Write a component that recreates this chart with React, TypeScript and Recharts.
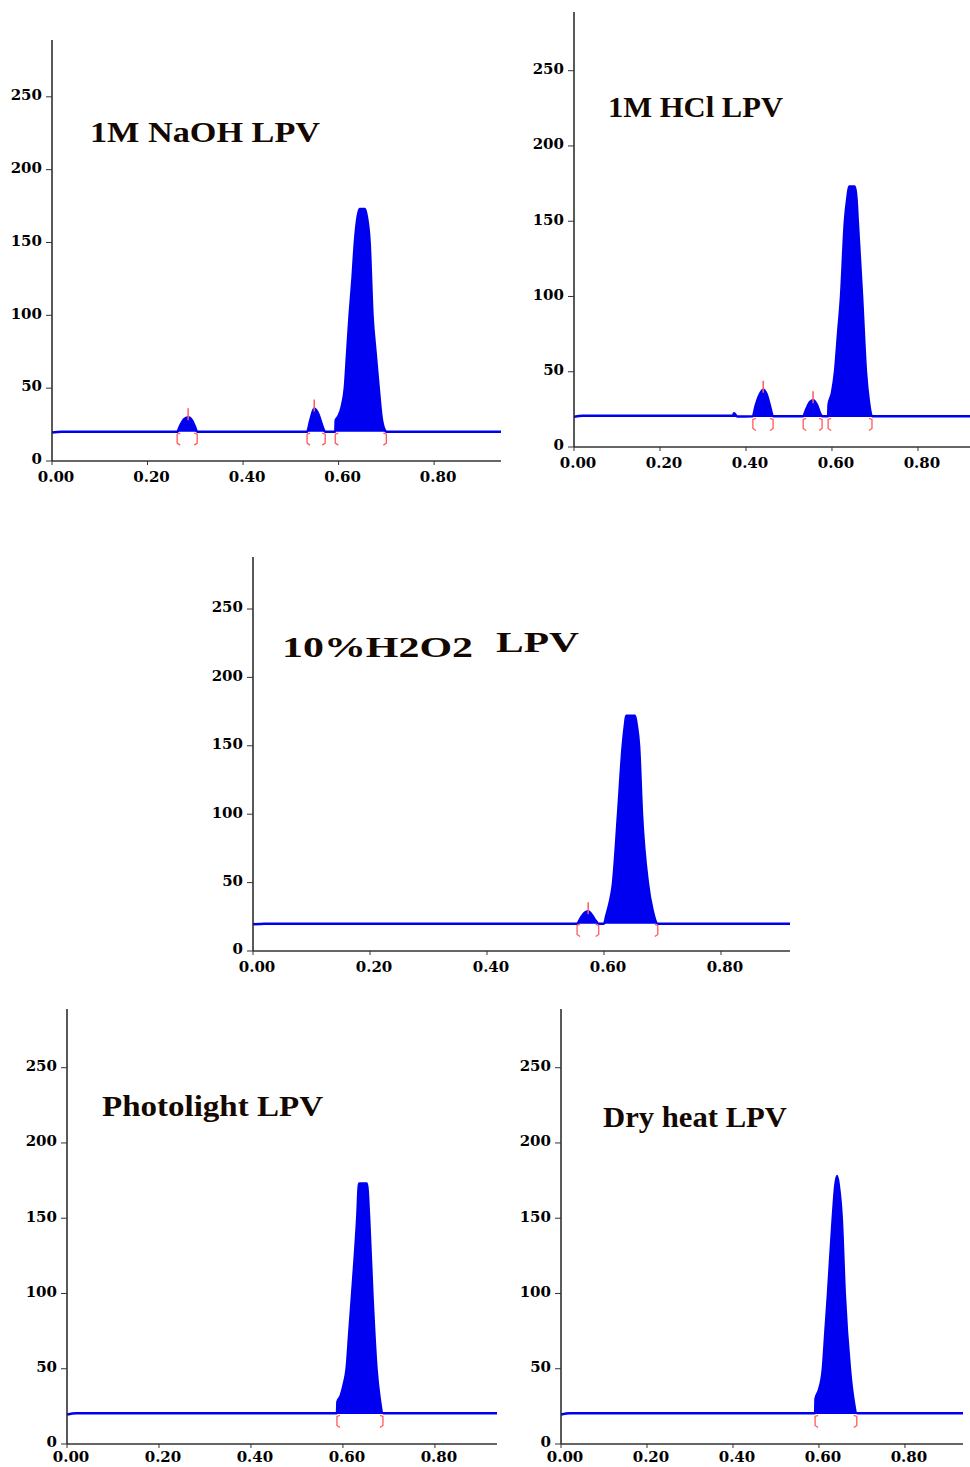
import React from 'react';
import { ComposedChart, Area, Scatter, XAxis, YAxis } from 'recharts';

const rtTicks = [0, 0.2, 0.4, 0.6, 0.8];
const signalTicks = [0, 50, 100, 150, 200, 250];

// 1M NaOH
const naohRt = [0, 0.02, 0.262, 0.268, 0.276, 0.285, 0.293, 0.3, 0.304, 0.534, 0.54, 0.549, 0.558, 0.566, 0.572, 0.593, 0.594, 0.6, 0.607, 0.613, 0.618, 0.623, 0.629, 0.634, 0.64, 0.644, 0.655, 0.659, 0.665, 0.671, 0.677, 0.684, 0.69, 0.697, 0.7, 0.94];
const naohSignal = [19.5, 20, 20, 24, 28.5, 30, 28, 23, 20, 20, 27, 36, 32, 24, 20, 20, 28, 31, 38, 50, 75, 100, 125, 150, 168, 173, 173, 168, 150, 100, 76, 50, 30, 21, 20, 20];
const naohStarts = [0.262, 0.534, 0.593];
const naohEnds = [0.304, 0.572, 0.7];
const naohApexRt = [0.285, 0.549];
const naohApexSignal = [30, 36];

// 1M HCl
const hclRt = [0, 0.02, 0.37, 0.372, 0.38, 0.416, 0.422, 0.432, 0.44, 0.448, 0.456, 0.463, 0.533, 0.54, 0.549, 0.556, 0.565, 0.573, 0.577, 0.591, 0.592, 0.6, 0.607, 0.614, 0.621, 0.63, 0.636, 0.64, 0.653, 0.657, 0.66, 0.67, 0.679, 0.686, 0.693, 0.921];
const hclSignal = [20, 20.8, 20.8, 22.5, 20.2, 20.5, 27, 35, 38, 35, 27, 20.5, 20.5, 25, 30, 31, 28, 22, 20.5, 20.5, 28, 36, 50, 75, 100, 150, 166, 173, 173, 165, 150, 100, 50, 30, 20.5, 20.5];
const hclStarts = [0.416, 0.533, 0.591];
const hclEnds = [0.463, 0.577, 0.693];
const hclApexRt = [0.44, 0.556];
const hclApexSignal = [38, 31];

// 10% H2O2
const h2o2Rt = [0, 0.02, 0.554, 0.56, 0.567, 0.573, 0.58, 0.586, 0.591, 0.6, 0.604, 0.61, 0.615, 0.624, 0.632, 0.636, 0.638, 0.653, 0.656, 0.66, 0.665, 0.675, 0.683, 0.692, 0.918];
const h2o2Signal = [19.5, 20, 20, 24, 28, 29, 26, 22, 20, 20, 26, 36, 48, 100, 150, 166, 172, 172, 165, 150, 100, 50, 30, 20, 20];
const h2o2Starts = [0.554];
const h2o2Ends = [0.591, 0.692];
const h2o2ApexRt = [0.573];
const h2o2ApexSignal = [29];

// Photolight
const photoRt = [0, 0.02, 0.587, 0.588, 0.595, 0.602, 0.608, 0.614, 0.62, 0.631, 0.635, 0.652, 0.657, 0.664, 0.673, 0.68, 0.687, 0.935];
const photoSignal = [19.5, 20.5, 20.5, 28, 32, 40, 50, 75, 100, 150, 173, 173, 150, 100, 50, 30, 20.5, 20.5];
const photoStarts = [0.587];
const photoEnds = [0.687];

// Dry heat
const dryRt = [0, 0.02, 0.591, 0.592, 0.6, 0.609, 0.615, 0.621, 0.632, 0.638, 0.642, 0.646, 0.653, 0.66, 0.672, 0.68, 0.688, 0.935];
const drySignal = [19.5, 20.5, 20.5, 30, 36, 50, 75, 100, 150, 172, 178, 172, 150, 100, 50, 30, 20.5, 20.5];
const dryStarts = [0.591];
const dryEnds = [0.688];

const Y_W = 50;
const X_H = 32;
const BRACKET_LEVEL = 15;
const BLUE = '#0000f0';
const MARK = '#ff5a5a';

const zip = (rt: number[], sig: number[]) => rt.map((r, i) => ({ rt: r, sig: sig[i] }));

const panels = [
  { title: ['1M NaOH LPV'], left: 52, top: 40, zero: 461, right: 501, xMax: 0.94, yMax: 289, labelGap: 6, rt: naohRt, sig: naohSignal, starts: naohStarts, ends: naohEnds, apexRt: naohApexRt, apexSig: naohApexSignal },
  { title: ['1M HCl LPV'], left: 574, top: 12, zero: 447, right: 970, xMax: 0.921, yMax: 289, labelGap: 6, rt: hclRt, sig: hclSignal, starts: hclStarts, ends: hclEnds, apexRt: hclApexRt, apexSig: hclApexSignal },
  { title: ['10%H2O2', 'LPV'], left: 253, top: 557, zero: 951, right: 790, xMax: 0.918, yMax: 288, labelGap: 6, rt: h2o2Rt, sig: h2o2Signal, starts: h2o2Starts, ends: h2o2Ends, apexRt: h2o2ApexRt, apexSig: h2o2ApexSignal },
  { title: ['Photolight LPV'], left: 67, top: 1009, zero: 1444, right: 497, xMax: 0.935, yMax: 289, labelGap: 3, rt: photoRt, sig: photoSignal, starts: photoStarts, ends: photoEnds, apexRt: [] as number[], apexSig: [] as number[] },
  { title: ['Dry heat LPV'], left: 561, top: 1009, zero: 1444, right: 963, xMax: 0.935, yMax: 289, labelGap: 3, rt: dryRt, sig: drySignal, starts: dryStarts, ends: dryEnds, apexRt: [] as number[], apexSig: [] as number[] },
];

// title placement: x, baseline, fontSize, textLength
const titleLayout = [
  [[90, 142, 30, 230]],
  [[608, 117, 29, 175]],
  [[282, 657, 30, 191], [496, 652, 29, 83]],
  [[102, 1116, 29, 221]],
  [[603, 1127, 30, 184]],
];

const Bracket = (props: any) => {
  const { cx, cy, payload } = props;
  if (cx == null || cy == null) return null;
  const d = payload.side === 'L' ? 1 : -1;
  return (
    <path
      d={`M${cx + 3 * d},${cy - 6} L${cx},${cy - 5} L${cx},${cy + 4} L${cx + 3 * d},${cy + 6}`}
      stroke={MARK}
      strokeWidth={1.3}
      fill="none"
    />
  );
};

const ApexTick = (props: any) => {
  const { cx, cy } = props;
  if (cx == null || cy == null) return null;
  return <line x1={cx} x2={cx} y1={cy - 9} y2={cy + 3} stroke={MARK} strokeWidth={1.5} />;
};

const tickFont = { fontFamily: 'DejaVu Serif', fontWeight: 'bold', fontSize: 15, fill: '#000' };

function Panel({ p }: { p: (typeof panels)[number] }) {
  const data = zip(p.rt, p.sig);
  const brackets = [
    ...p.starts.map((r) => ({ rt: r, sig: BRACKET_LEVEL, side: 'L' })),
    ...p.ends.map((r) => ({ rt: r, sig: BRACKET_LEVEL, side: 'R' })),
  ];
  const apexes = zip(p.apexRt, p.apexSig);
  const width = p.right - p.left + Y_W;
  const height = p.zero - p.top + X_H;
  return (
    <div style={{ position: 'absolute', left: p.left - Y_W, top: p.top, width, height }}>
      <ComposedChart width={width} height={height} data={data} margin={{ top: 0, right: 0, bottom: 0, left: 0 }}>
        <XAxis
          dataKey="rt"
          type="number"
          domain={[0, p.xMax]}
          ticks={rtTicks}
          interval={0}
          allowDataOverflow
          tickFormatter={(v: number) => v.toFixed(2)}
          height={X_H}
          axisLine={{ stroke: '#333', strokeWidth: 1.5 }}
          tickLine={{ stroke: '#333' }}
          tickSize={4}
          tickMargin={p.labelGap}
          tick={{ ...tickFont, dx: 4 }}
        />
        <YAxis
          type="number"
          domain={[0, p.yMax]}
          ticks={signalTicks}
          interval={0}
          allowDataOverflow
          width={Y_W}
          axisLine={{ stroke: '#222', strokeWidth: 1.5 }}
          tickLine={{ stroke: '#333' }}
          tickSize={6}
          tickMargin={4}
          tick={{ ...tickFont, dy: -2 }}
        />
        <Area
          type="monotone"
          dataKey="sig"
          baseValue={20}
          stroke={BLUE}
          strokeWidth={2.5}
          fill={BLUE}
          fillOpacity={1}
          dot={false}
          activeDot={false}
          isAnimationActive={false}
        />
        <Scatter data={brackets} dataKey="sig" shape={<Bracket />} isAnimationActive={false} />
        {apexes.length > 0 && (
          <Scatter data={apexes} dataKey="sig" shape={<ApexTick />} isAnimationActive={false} />
        )}
      </ComposedChart>
    </div>
  );
}

export default function App() {
  return (
    <div style={{ position: 'absolute', left: 0, top: 0, width: 970, height: 1467, background: '#fff', overflow: 'hidden' }}>
      {panels.map((p, i) => (
        <Panel key={i} p={p} />
      ))}
      <svg width={970} height={1467} style={{ position: 'absolute', left: 0, top: 0, pointerEvents: 'none' }}>
        {panels.map((p, i) =>
          p.title.map((t, j) => {
            const [x, y, fs, len] = titleLayout[i][j];
            return (
              <text
                key={`${i}-${j}`}
                x={x}
                y={y}
                fontSize={fs}
                fontFamily="'Liberation Serif', serif"
                fontWeight="bold"
                fill="#140800"
                textLength={len}
                lengthAdjust="spacingAndGlyphs"
              >
                {t}
              </text>
            );
          })
        )}
      </svg>
    </div>
  );
}
